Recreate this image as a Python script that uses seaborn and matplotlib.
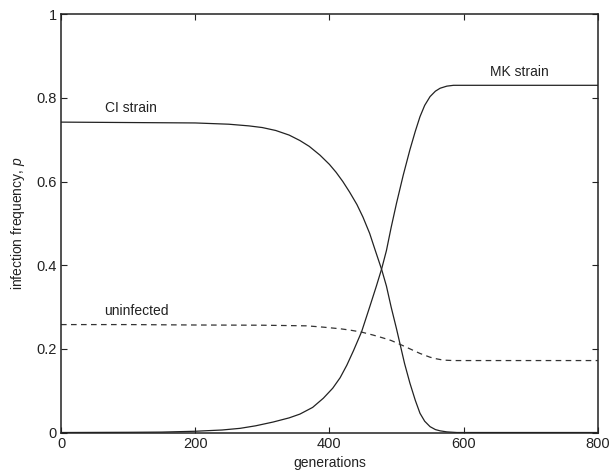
import matplotlib
matplotlib.use("Agg")
import matplotlib.pyplot as plt
import pandas as pd
import seaborn as sns

# values
ci_gen = [0, 100, 200, 250, 280, 300, 320, 340, 356, 370, 386, 400, 410, 420,
          430, 441, 450, 460, 468, 478, 485, 492, 500, 512, 520, 528, 535, 542,
          550, 558, 565, 575, 590, 620, 700, 800]
ci_p = [0.742, 0.741, 0.740, 0.737, 0.733, 0.729, 0.722, 0.711, 0.698, 0.684,
        0.663, 0.641, 0.622, 0.600, 0.575, 0.545, 0.515, 0.476, 0.437, 0.389,
        0.350, 0.300, 0.248, 0.165, 0.118, 0.077, 0.046, 0.027, 0.014, 0.007,
        0.004, 0.0015, 0.0, 0.0, 0.0, 0.0]

mk_gen = [0, 100, 150, 200, 240, 267, 290, 316, 340, 356, 375, 391, 405, 416,
          426, 436, 448, 460, 470, 478, 485, 492, 500, 510, 520, 528, 535, 542,
          550, 558, 565, 575, 585, 615, 700, 800]
mk_p = [0.0, 0.0005, 0.001, 0.003, 0.006, 0.010, 0.016, 0.025, 0.035, 0.044,
        0.060, 0.082, 0.106, 0.131, 0.161, 0.196, 0.241, 0.300, 0.350, 0.392,
        0.435, 0.490, 0.548, 0.615, 0.676, 0.720, 0.755, 0.782, 0.803, 0.816,
        0.823, 0.828, 0.830, 0.830, 0.830, 0.830]

un_gen = [0, 100, 200, 300, 366, 390, 416, 430, 448, 465, 478, 492, 505, 520,
          535, 550, 560, 570, 585, 620, 700, 800]
un_p = [0.258, 0.258, 0.257, 0.2565, 0.255, 0.252, 0.248, 0.245, 0.240, 0.233,
        0.227, 0.220, 0.211, 0.200, 0.189, 0.180, 0.176, 0.173, 0.172, 0.172,
        0.172, 0.172]

x_ticks = [0, 200, 400, 600, 800]
y_ticks = [0, 0.2, 0.4, 0.6, 0.8, 1]
y_tick_labels = ["0", "0.2", "0.4", "0.6", "0.8", "1"]

curves = pd.concat([
    pd.DataFrame({"generations": ci_gen, "p": ci_p, "strain": "CI strain"}),
    pd.DataFrame({"generations": mk_gen, "p": mk_p, "strain": "MK strain"}),
    pd.DataFrame({"generations": un_gen, "p": un_p, "strain": "uninfected"}),
])

sns.set_theme(style="ticks")
plt.rcParams["font.family"] = ["Liberation Sans", "DejaVu Sans"]
plt.rcParams["mathtext.fontset"] = "custom"
plt.rcParams["mathtext.it"] = "Liberation Sans:italic"

fig = plt.figure(figsize=(6.1, 4.73), dpi=100)
ax = fig.add_axes([0.1, 0.0856, 0.880, 0.8844])

sns.lineplot(
    data=curves,
    x="generations",
    y="p",
    hue="strain",
    style="strain",
    palette={"CI strain": "#222222", "MK strain": "#222222", "uninfected": "#333333"},
    dashes={"CI strain": "", "MK strain": "", "uninfected": (4.5, 3.5)},
    linewidth=0.9,
    legend=False,
    ax=ax,
)

ax.set_xlim(0, 800)
ax.set_ylim(0, 1)
ax.set_xticks(x_ticks)
ax.set_yticks(y_ticks)
ax.set_yticklabels(y_tick_labels)
ax.tick_params(direction="in", length=4, width=0.8, top=True, right=True,
               labelsize=10.5, colors="#222222", pad=3)
for s in ax.spines.values():
    s.set_linewidth(1.1)
    s.set_color("#222222")

ax.set_xlabel("generations", fontsize=10, color="#222222", labelpad=4)
ax.set_ylabel("infection frequency, $p$", fontsize=10, color="#222222", labelpad=7)

ax.text(65, 0.765, "CI strain", fontsize=10, color="#222222")
ax.text(640, 0.853, "MK strain", fontsize=10, color="#222222")
ax.text(65, 0.28, "uninfected", fontsize=10, color="#222222")

fig.savefig("out.png", dpi=100)
